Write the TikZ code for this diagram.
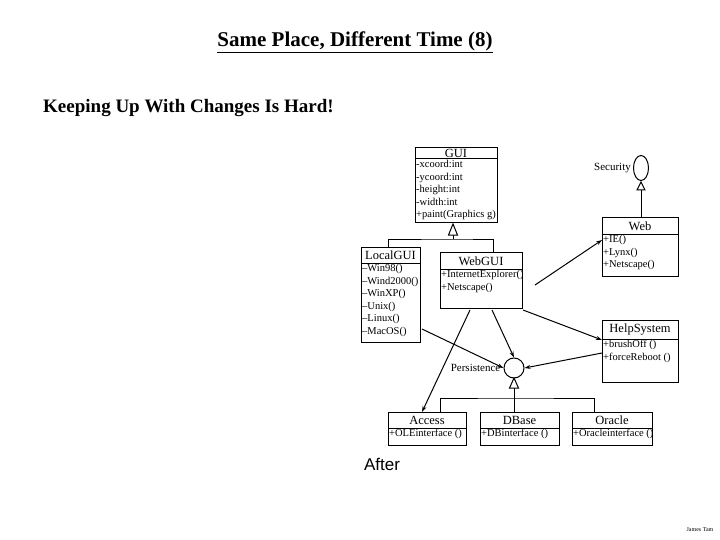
\documentclass[tikz,border=0pt]{standalone}
\usepackage{fontspec}
\setmainfont{Liberation Serif}
\usetikzlibrary{arrows.meta,positioning,shapes.geometric}
\newcommand{\umlcls}[8]{%
  \node[draw,line width=1pt,minimum width=#4-#2,minimum height=#5-#3,anchor=north west,inner sep=0pt] (#1) at (#2,#3) {};
  \draw[line width=1pt] (#2,#6) -- (#4,#6);
  \node[font=\fontsize{12.5}{12.5}\selectfont,anchor=center] (#1t) at ({(#2+#4)/2},{(#3+#6)/2+0.5}) {#7};
  \node[font=\fontsize{10.5}{12.6}\selectfont,anchor=north west,align=left,inner sep=1pt] (#1b) at (#2,#6) {#8};
}
\begin{document}
\begin{tikzpicture}[x=1pt,y=-1pt,
  conn/.style={line width=1pt},
  dep/.style={line width=1pt,-{Stealth[length=6pt,width=4pt]}},
  tri/.style={draw,line width=1pt,fill=white}]
\useasboundingbox (0,0) rectangle (720,540);
\node[font=\bfseries\fontsize{21}{21}\selectfont] (title) at (355,42) {\underline{Same Place, Different Time (8)}};
\node[font=\bfseries\fontsize{19}{19}\selectfont,anchor=west,inner sep=0pt] (sub) at (43,108) {Keeping Up With Changes Is Hard!};
\node[font=\fontsize{17}{17}\selectfont\fontspec{Liberation Sans}] (after) at (382,464) {After};
\node[font=\fontsize{6}{6}\selectfont] (auth) at (700,530) {James Tam};

\umlcls{gui}{415}{147}{497}{222}{159}{GUI}{-xcoord:int\\-ycoord:int\\-height:int\\-width:int\\+paint(Graphics g)}
\umlcls{web}{602}{217}{678}{276}{234}{Web}{+IE()\\+Lynx()\\+Netscape()}
\umlcls{local}{361}{247}{420}{342}{263}{LocalGUI}{--Win98()\\--Wind2000()\\--WinXP()\\--Unix()\\--Linux()\\--MacOS()}
\umlcls{webgui}{440}{252}{522}{308}{269}{WebGUI}{+InternetExplorer()\\+Netscape()}
\umlcls{help}{602}{320}{678}{382}{339}{HelpSystem}{+brushOff ()\\+forceReboot ()}
\umlcls{access}{388}{412}{466}{445}{428}{Access}{+OLEinterface ()}
\umlcls{dbase}{480}{412}{559}{445}{428}{DBase}{+DBinterface ()}
\umlcls{oracle}{572}{412}{652}{445}{428}{Oracle}{+Oracleinterface ()}

\node[draw,ellipse,line width=1pt,minimum width=15pt,minimum height=25pt,inner sep=0pt] (sec) at (641,168) {};
\node[font=\fontsize{11}{11}\selectfont,anchor=east,inner sep=2pt] (secl) at (sec.west) {Security};
\node[draw,circle,line width=1pt,minimum size=20pt,inner sep=0pt] (pers) at (514,368) {};
\node[font=\fontsize{11}{11}\selectfont,anchor=east,inner sep=3pt] (persl) at (pers.west) {Persistence};

\coordinate (sectri) at (641,190);
\draw[conn] (web.north -| sectri) -- (sectri);
\draw[tri] (sectri) -- ++(-4,0) -- (641,182) -- (645,190) -- cycle;

\coordinate (guitri) at (453,235);
\coordinate (gh) at (453,239);
\draw[conn] (local.north -| 388,0) |- (gh) -| (webgui.north -| 493,0);
\draw[conn] (gh) -- (guitri);
\draw[tri] (guitri) -- ++(-4.5,0) -- (453,224) -- (457.5,235) -- cycle;

\coordinate (ptri) at (514,388);
\coordinate (ph) at (514,398);
\draw[conn] (access.north -| 440,0) |- (ph) -| (oracle.north -| 594,0);
\draw[conn] (dbase.north -| 514,0) -- (ptri);
\draw[tri] (ptri) -- ++(-4.5,0) -- (514,378) -- (518.5,388) -- cycle;

\draw[dep] (535,285) -- (web.west |- 0,240);
\draw[dep] (470,310) -- (access.north -| 422,0);
\draw[dep] (492,310) -- (pers.north);
\draw[dep] (422,329) -- (pers.west);
\draw[dep] (523,310) -- (help.west |- 0,340);
\draw[dep] (help.west |- 0,353) -- (pers.east);
\end{tikzpicture}
\end{document}
